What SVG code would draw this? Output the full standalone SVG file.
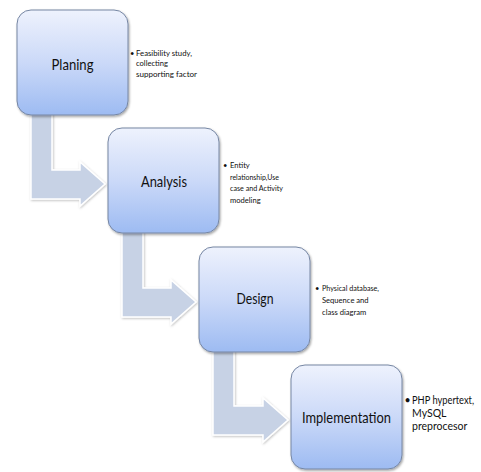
<svg xmlns="http://www.w3.org/2000/svg" width="481" height="472" viewBox="0 0 481 472">
  <style>
    .box { fill: url(#boxFill); stroke: #7686a3; stroke-width: 1; filter: url(#boxShadow); }
    .arrow { fill: #c7d2e5; stroke: #ffffff; stroke-width: 1.5; stroke-linejoin: miter; filter: url(#arrowShadow); }
    .label { font-family: Lato, "Liberation Sans", sans-serif; font-size: 16px; fill: #111; text-anchor: middle; }
    .note { font-family: Lato, "Liberation Sans", sans-serif; font-size: 7.6px; fill: #111; }
    .note-lg { font-family: Lato, "Liberation Sans", sans-serif; font-size: 10.5px; fill: #111; }
  </style>
  <defs>
    <linearGradient id="boxFill" x1="0" y1="0" x2="0" y2="1">
      <stop offset="0" stop-color="#eef2fd"/>
      <stop offset="0.5" stop-color="#cbd9f8"/>
      <stop offset="1" stop-color="#9dbbf2"/>
    </linearGradient>
    <filter id="boxShadow" x="-10%" y="-10%" width="125%" height="125%">
      <feDropShadow dx="1" dy="1.5" stdDeviation="1.2" flood-color="#000" flood-opacity="0.35"/>
    </filter>
    <filter id="arrowShadow" x="-10%" y="-10%" width="125%" height="125%">
      <feDropShadow dx="0.8" dy="1" stdDeviation="1" flood-color="#000" flood-opacity="0.25"/>
    </filter>
  </defs>
  <rect width="481" height="472" fill="#ffffff"/>

  <!-- bent arrows linking each step to the next -->
  <g id="connectors">
    <polygon class="arrow" points="31,105 52,105 52,170 80,170 80,162 105,184 80,206 80,199 31,199"/>
    <polygon class="arrow" points="122,223 143,223 143,288 171,288 171,280 196,302 171,324 171,317 122,317"/>
    <polygon class="arrow" points="213,341 234,341 234,406 263,406 263,398 288,420 263,442 263,435 213,435"/>
  </g>

  <g id="planing">
    <rect class="box" x="17" y="10" width="111" height="105" rx="14"/>
    <text class="label" x="72.5" y="70" textLength="42" lengthAdjust="spacingAndGlyphs">Planing</text>
    <text class="note" x="130" y="55.5">•</text>
    <text class="note" x="136" y="55.5" textLength="56" lengthAdjust="spacingAndGlyphs">Feasibility study,</text>
    <text class="note" x="136" y="66">collecting</text>
    <text class="note" x="136" y="76.5" textLength="61" lengthAdjust="spacingAndGlyphs">supporting factor</text>
  </g>

  <g id="analysis">
    <rect class="box" x="108" y="128" width="111" height="105" rx="14"/>
    <text class="label" x="164" y="187" textLength="46" lengthAdjust="spacingAndGlyphs">Analysis</text>
    <text class="note" x="223" y="168">•</text>
    <text class="note" x="230" y="168">Entity</text>
    <text class="note" x="230" y="179.5" textLength="49" lengthAdjust="spacingAndGlyphs">relationship,Use</text>
    <text class="note" x="230" y="191" textLength="53" lengthAdjust="spacingAndGlyphs">case and Activity</text>
    <text class="note" x="230" y="202.5">modeling</text>
  </g>

  <g id="design">
    <rect class="box" x="199" y="247" width="111" height="105" rx="14"/>
    <text class="label" x="255" y="304" textLength="37" lengthAdjust="spacingAndGlyphs">Design</text>
    <text class="note" x="315" y="291">•</text>
    <text class="note" x="322" y="291" textLength="57" lengthAdjust="spacingAndGlyphs">Physical database,</text>
    <text class="note" x="322" y="303">Sequence and</text>
    <text class="note" x="322" y="315">class diagram</text>
  </g>

  <g id="implementation">
    <rect class="box" x="291" y="365" width="111" height="104" rx="14"/>
    <text class="label" x="346.5" y="423" textLength="89" lengthAdjust="spacingAndGlyphs">Implementation</text>
    <text class="note-lg" x="404.5" y="404">•</text>
    <text class="note-lg" x="412" y="404" textLength="62" lengthAdjust="spacingAndGlyphs">PHP hypertext,</text>
    <text class="note-lg" x="412" y="417">MySQL</text>
    <text class="note-lg" x="412" y="430">preprocesor</text>
  </g>
</svg>
